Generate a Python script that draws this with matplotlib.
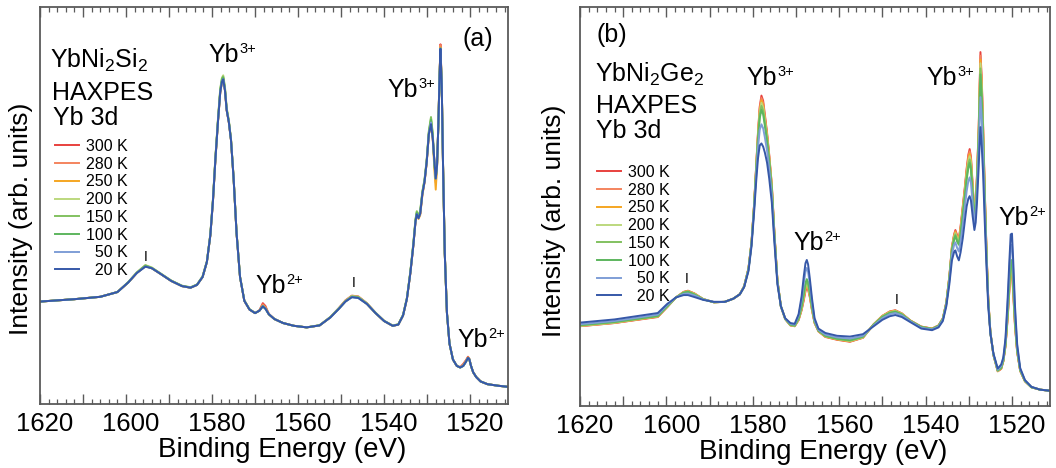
import matplotlib
matplotlib.use("Agg")
import matplotlib.pyplot as plt
from matplotlib.ticker import MultipleLocator, FuncFormatter
from matplotlib.transforms import ScaledTranslation

plt.rcParams['font.family'] = ['Liberation Sans', 'DejaVu Sans']
plt.rcParams['mathtext.fontset'] = 'custom'
plt.rcParams['mathtext.rm'] = 'Liberation Sans'
plt.rcParams['mathtext.it'] = 'Liberation Sans:italic'
plt.rcParams['mathtext.bf'] = 'Liberation Sans:bold'

# ---------------- data ----------------
temps = ["300 K", "280 K", "250 K", "200 K", "150 K", "100 K", "\u200750 K", "\u200720 K"]
colors = ["#e8413e", "#f4845e", "#f5a623", "#bcd87e", "#82c160", "#5db65e", "#7f9ed6", "#3658a8"]

# (a) YbNi2Si2 binding energies (eV)
energy_a = [1620, 1612, 1606, 1602, 1599.5, 1597.5, 1595.5, 1594, 1592, 1589.5,
            1587, 1585, 1583.5, 1582.2, 1581.2, 1580.4, 1579.8, 1579.2, 1578.6, 1578.1,
            1577.7, 1577.4, 1577.0, 1576.6, 1576.1, 1575.6, 1575.0, 1574.3, 1573.5, 1572.5,
            1571.3, 1570.0, 1569.0, 1568.2, 1567.6, 1566.8, 1565.5, 1563.5, 1561, 1558,
            1555, 1552.5, 1550.5, 1549, 1547.5, 1546, 1544, 1542, 1540, 1538,
            1536.7, 1535.6, 1534.7, 1533.9, 1533.2, 1532.7, 1532.4, 1532.0, 1531.6, 1531.1,
            1530.6, 1530.1, 1529.6, 1529.1, 1528.7, 1528.3, 1528.0, 1527.7, 1527.4, 1527.1,
            1526.9, 1526.6, 1526.3, 1525.9, 1525.4, 1524.8, 1524.0, 1523.1, 1522.3, 1521.6,
            1521.0, 1520.5, 1520.2, 1519.8, 1519.3, 1518.6, 1517.6, 1516, 1513.5, 1511]

si_300 = [25.8, 26.4, 27.0, 28.2, 30.6, 33.0, 34.9, 34.2, 32.8, 31.0,
          29.7, 29.3, 30.0, 32.0, 35.8, 42.5, 51.0, 62.0, 71.5, 78.5,
          81.2, 82.0, 79.0, 74.0, 71.0, 66.5, 57.0, 43.0, 32.0, 26.0,
          23.8, 22.9, 23.6, 25.4, 24.7, 22.7, 21.4, 20.4, 19.7, 19.3,
          19.8, 21.9, 24.2, 26.1, 27.3, 27.1, 25.4, 23.0, 20.9, 19.7,
          20.0, 22.3, 26.5, 33.0, 40.0, 46.0, 48.0, 46.8, 48.0, 53.0,
          56.0, 61.0, 68.0, 70.8, 67.0, 61.0, 56.8, 60.0, 70.0, 83.0,
          90.6, 80.0, 60.0, 38.0, 23.0, 15.2, 11.2, 9.6, 9.3, 10.1,
          11.0, 11.9, 11.4, 9.6, 8.0, 6.8, 5.7, 5.0, 4.6, 4.3]
si_280 = [25.8, 26.4, 27.0, 28.2, 30.6, 33.0, 34.8, 34.2, 32.8, 31.0,
          29.7, 29.3, 30.0, 32.0, 35.8, 42.5, 51.0, 62.0, 71.5, 78.5,
          81.2, 81.9, 79.0, 74.0, 71.0, 66.5, 57.0, 43.0, 32.0, 26.0,
          23.8, 22.9, 23.5, 25.1, 24.4, 22.6, 21.4, 20.4, 19.7, 19.3,
          19.8, 21.8, 24.1, 26.0, 27.2, 27.0, 25.3, 22.9, 20.9, 19.7,
          20.0, 22.3, 26.5, 33.0, 40.0, 46.0, 48.0, 46.8, 48.0, 53.0,
          56.0, 61.0, 68.0, 70.6, 67.0, 60.5, 55.8, 60.0, 70.0, 83.0,
          90.4, 80.0, 60.0, 38.0, 23.0, 15.2, 11.2, 9.6, 9.2, 9.9,
          10.9, 11.8, 11.3, 9.6, 8.0, 6.8, 5.7, 5.0, 4.6, 4.3]
si_250 = [25.8, 26.4, 27.0, 28.2, 30.6, 33.0, 34.7, 34.2, 32.8, 31.0,
          29.7, 29.3, 30.0, 32.0, 35.8, 42.5, 51.0, 62.0, 71.5, 78.5,
          81.2, 81.9, 79.0, 74.0, 71.0, 66.5, 57.0, 43.0, 32.0, 26.0,
          23.8, 22.9, 23.5, 24.8, 24.2, 22.6, 21.4, 20.4, 19.7, 19.3,
          19.8, 21.8, 24.1, 25.9, 27.1, 26.9, 25.2, 22.9, 20.9, 19.7,
          20.0, 22.3, 26.5, 33.0, 40.0, 46.0, 47.9, 46.6, 47.6, 52.6,
          55.8, 60.8, 67.8, 70.6, 66.8, 58.8, 54.0, 59.5, 70.0, 83.0,
          89.8, 80.0, 60.0, 38.0, 23.0, 15.2, 11.2, 9.6, 9.2, 9.7,
          10.7, 11.7, 11.3, 9.6, 8.0, 6.8, 5.7, 5.0, 4.6, 4.3]
si_200 = [25.8, 26.4, 27.0, 28.2, 30.7, 33.2, 35.0, 34.4, 32.9, 31.1,
          29.8, 29.4, 30.1, 32.2, 36.0, 42.8, 51.5, 62.6, 72.2, 79.4,
          82.2, 82.8, 79.8, 74.6, 71.5, 66.8, 57.2, 43.2, 32.1, 26.1,
          23.9, 22.9, 23.5, 24.7, 24.1, 22.6, 21.4, 20.4, 19.7, 19.3,
          19.9, 21.9, 24.2, 26.0, 27.2, 27.0, 25.4, 23.0, 21.0, 19.8,
          20.1, 22.5, 26.8, 33.4, 40.6, 46.6, 48.6, 47.3, 48.8, 53.6,
          56.6, 61.6, 68.5, 72.0, 68.0, 60.4, 56.9, 60.2, 70.0, 83.0,
          89.6, 80.0, 60.0, 38.0, 23.0, 15.2, 11.2, 9.6, 9.2, 9.6,
          10.6, 11.6, 11.3, 9.6, 8.0, 6.8, 5.7, 5.0, 4.6, 4.3]
si_150 = [25.8, 26.4, 27.0, 28.2, 30.7, 33.1, 34.9, 34.3, 32.9, 31.1,
          29.8, 29.4, 30.1, 32.1, 35.9, 42.7, 51.4, 62.4, 72.0, 79.2,
          82.0, 82.5, 79.6, 74.4, 71.3, 66.7, 57.1, 43.1, 32.1, 26.1,
          23.9, 22.9, 23.5, 24.7, 24.1, 22.6, 21.4, 20.4, 19.7, 19.3,
          19.8, 21.9, 24.1, 25.9, 27.1, 26.9, 25.3, 23.0, 20.9, 19.7,
          20.1, 22.4, 26.7, 33.3, 40.5, 46.5, 48.5, 47.2, 48.7, 53.5,
          56.5, 61.5, 68.8, 72.3, 68.2, 60.4, 56.9, 60.1, 70.0, 83.0,
          89.6, 80.0, 60.0, 38.0, 23.0, 15.2, 11.2, 9.6, 9.2, 9.6,
          10.6, 11.6, 11.3, 9.6, 8.0, 6.8, 5.7, 5.0, 4.6, 4.3]
si_100 = [25.8, 26.4, 27.0, 28.2, 30.6, 33.0, 34.8, 34.2, 32.8, 31.0,
          29.7, 29.3, 30.0, 32.0, 35.8, 42.6, 51.2, 62.2, 71.8, 78.9,
          81.7, 82.2, 79.3, 74.2, 71.1, 66.6, 57.0, 43.0, 32.0, 26.0,
          23.8, 22.9, 23.5, 24.6, 24.0, 22.6, 21.4, 20.4, 19.7, 19.3,
          19.8, 21.8, 24.0, 25.8, 27.0, 26.8, 25.2, 22.9, 20.9, 19.7,
          20.0, 22.3, 26.6, 33.2, 40.3, 46.3, 48.2, 47.0, 48.4, 53.3,
          56.3, 61.2, 68.4, 71.6, 67.6, 60.2, 56.8, 60.0, 70.0, 83.0,
          89.5, 80.0, 60.0, 38.0, 23.0, 15.2, 11.2, 9.6, 9.2, 9.6,
          10.6, 11.6, 11.3, 9.6, 8.0, 6.8, 5.7, 5.0, 4.6, 4.3]
si_50 = [25.8, 26.4, 27.0, 28.2, 30.6, 33.0, 34.6, 34.2, 32.8, 31.0,
         29.7, 29.3, 30.0, 32.0, 35.8, 42.5, 51.0, 62.0, 71.5, 78.5,
         81.2, 81.8, 79.0, 74.0, 71.0, 66.5, 57.0, 43.0, 32.0, 26.0,
         23.8, 22.9, 23.5, 24.6, 24.0, 22.6, 21.4, 20.4, 19.7, 19.3,
         19.8, 21.8, 24.0, 25.8, 26.9, 26.7, 25.2, 22.9, 20.9, 19.7,
         20.0, 22.3, 26.5, 33.0, 40.0, 46.0, 47.8, 46.8, 48.0, 53.0,
         56.0, 61.0, 68.0, 70.9, 67.0, 61.0, 56.8, 60.0, 70.0, 83.0,
         89.5, 80.0, 60.0, 38.0, 23.0, 15.2, 11.2, 9.6, 9.2, 9.6,
         10.6, 11.6, 11.3, 9.6, 8.0, 6.8, 5.7, 5.0, 4.6, 4.3]
si_20 = [25.8, 26.4, 27.0, 28.2, 30.6, 33.0, 34.6, 34.2, 32.8, 31.0,
         29.7, 29.3, 30.0, 32.0, 35.8, 42.5, 51.0, 62.0, 71.5, 78.5,
         81.2, 81.8, 79.0, 74.0, 71.0, 66.5, 57.0, 43.0, 32.0, 26.0,
         23.8, 22.9, 23.5, 24.6, 24.0, 22.6, 21.4, 20.4, 19.7, 19.3,
         19.8, 21.8, 24.0, 25.8, 26.9, 26.7, 25.2, 22.9, 20.9, 19.7,
         20.0, 22.3, 26.5, 33.0, 40.0, 46.0, 47.8, 46.8, 48.0, 53.0,
         56.0, 61.0, 68.0, 70.5, 67.0, 61.0, 56.8, 60.0, 70.0, 83.0,
         89.5, 80.0, 60.0, 38.0, 23.0, 15.2, 11.2, 9.6, 9.2, 9.6,
         10.6, 11.6, 11.3, 9.6, 8.0, 6.8, 5.7, 5.0, 4.6, 4.3]

# (b) YbNi2Ge2 binding energies (eV)
energy_b = [1620, 1612, 1602, 1599.8, 1597.8, 1596, 1595, 1593.5, 1591.5, 1589,
            1586.5, 1584.5, 1583, 1582, 1581, 1580.3, 1579.7, 1579.2, 1578.8, 1578.4,
            1578.0, 1577.6, 1577.2, 1576.7, 1576.2, 1575.6, 1575.0, 1574.3, 1573.5, 1572.5,
            1571.3, 1570.3, 1569.4, 1568.7, 1568.2, 1567.8, 1567.5, 1567.2, 1566.8, 1566.3,
            1565.7, 1564.8, 1563.2, 1560.5, 1557.5, 1554.5, 1552, 1550, 1548.3, 1547,
            1545.5, 1543.5, 1541, 1538.5, 1537, 1536, 1535.2, 1534.5, 1533.9, 1533.4,
            1533.1, 1532.7, 1532.3, 1531.9, 1531.4, 1530.9, 1530.5, 1530.1, 1529.8, 1529.5,
            1529.1, 1528.7, 1528.4, 1528.1, 1527.7, 1527.5, 1527.3, 1527.0, 1526.7, 1526.3,
            1525.9, 1525.5, 1525.0, 1524.3, 1523.3, 1522.5, 1522.0, 1521.5, 1521.0, 1520.6,
            1520.3, 1520.0, 1519.7, 1519.3, 1518.8, 1518.1, 1517.0, 1515.5, 1513.5, 1511]

ge_300 = [20.0, 20.8, 22.3, 24.8, 27.2, 28.6, 28.9, 28.2, 26.8, 26.0,
          26.1, 26.9, 28.0, 30.0, 34.5, 41.0, 50.5, 60.5, 68.5, 75.0,
          77.8, 76.5, 73.0, 68.5, 63.0, 55.5, 43.5, 31.5, 25.0, 21.8,
          20.2, 20.0, 21.5, 24.0, 26.5, 28.8, 29.8, 29.2, 27.3, 24.0,
          20.8, 18.7, 17.3, 16.6, 16.1, 17.1, 20.5, 22.6, 23.7, 24.0,
          23.2, 21.4, 19.9, 19.4, 20.2, 22.0, 26.0, 32.5, 40.0, 43.0,
          44.1, 42.8, 42.0, 45.0, 50.0, 55.0, 59.5, 63.0, 64.4, 62.5,
          55.5, 48.5, 51.0, 58.0, 70.0, 80.0, 88.7, 82.0, 71.0, 54.0,
          39.0, 27.0, 18.5, 12.8, 8.7, 9.3, 11.2, 15.0, 22.0, 29.0,
          33.5, 33.8, 28.0, 20.0, 13.5, 8.8, 6.2, 4.7, 4.1, 3.8]
ge_280 = [20.0, 20.8, 22.4, 24.8, 27.2, 28.6, 28.8, 28.2, 26.8, 26.0,
          26.1, 26.9, 28.0, 30.0, 34.5, 40.9, 50.4, 60.3, 68.2, 74.5,
          77.2, 75.9, 72.5, 68.1, 62.7, 55.3, 43.4, 31.5, 25.0, 21.8,
          20.2, 20.0, 21.6, 24.2, 26.8, 29.2, 30.1, 29.5, 27.5, 24.2,
          20.9, 18.7, 17.4, 16.7, 16.2, 17.1, 20.5, 22.6, 23.6, 23.9,
          23.2, 21.4, 19.9, 19.4, 20.2, 22.0, 25.9, 32.4, 39.8, 42.8,
          43.8, 42.5, 41.7, 44.7, 49.6, 54.6, 59.0, 62.5, 63.8, 61.9,
          55.1, 48.3, 50.8, 57.7, 69.5, 79.3, 87.8, 81.2, 70.4, 53.6,
          38.8, 26.9, 18.5, 12.8, 8.7, 9.4, 11.3, 15.1, 22.3, 29.4,
          34.0, 34.3, 28.4, 20.3, 13.6, 8.8, 6.2, 4.7, 4.1, 3.8]
ge_250 = [20.1, 20.9, 22.4, 24.9, 27.2, 28.5, 28.8, 28.1, 26.8, 26.0,
          26.1, 26.9, 28.0, 30.0, 34.4, 40.9, 50.3, 60.1, 67.9, 74.0,
          76.6, 75.4, 72.1, 67.8, 62.4, 55.1, 43.3, 31.4, 25.0, 21.8,
          20.3, 20.1, 21.7, 24.4, 27.1, 29.5, 30.5, 29.8, 27.8, 24.3,
          20.9, 18.8, 17.4, 16.7, 16.2, 17.2, 20.5, 22.5, 23.6, 23.9,
          23.1, 21.4, 19.8, 19.4, 20.1, 21.9, 25.9, 32.3, 39.6, 42.6,
          43.6, 42.3, 41.5, 44.4, 49.2, 54.2, 58.6, 61.9, 63.2, 61.4,
          54.7, 48.1, 50.5, 57.3, 69.0, 78.6, 86.8, 80.3, 69.8, 53.2,
          38.6, 26.8, 18.5, 12.8, 8.8, 9.4, 11.3, 15.2, 22.5, 29.8,
          34.5, 34.7, 28.8, 20.5, 13.7, 8.9, 6.2, 4.7, 4.1, 3.8]
ge_200 = [20.1, 20.9, 22.5, 24.9, 27.2, 28.5, 28.7, 28.1, 26.8, 26.0,
          26.1, 26.9, 28.0, 30.0, 34.4, 40.8, 50.2, 59.9, 67.5, 73.5,
          76.0, 74.8, 71.6, 67.4, 62.1, 54.8, 43.1, 31.4, 25.0, 21.8,
          20.3, 20.1, 21.7, 24.5, 27.4, 29.9, 30.8, 30.1, 28.0, 24.5,
          21.0, 18.8, 17.5, 16.8, 16.3, 17.2, 20.4, 22.5, 23.5, 23.8,
          23.1, 21.3, 19.8, 19.3, 20.1, 21.9, 25.8, 32.2, 39.5, 42.3,
          43.3, 42.0, 41.2, 44.0, 48.8, 53.7, 58.1, 61.4, 62.6, 60.9,
          54.3, 47.8, 50.3, 57.0, 68.5, 77.8, 85.9, 79.5, 69.1, 52.8,
          38.4, 26.7, 18.5, 12.9, 8.8, 9.5, 11.4, 15.3, 22.8, 30.1,
          34.9, 35.2, 29.2, 20.8, 13.8, 8.9, 6.2, 4.7, 4.1, 3.8]
ge_150 = [20.2, 21.0, 22.5, 25.0, 27.2, 28.4, 28.7, 28.0, 26.8, 26.0,
          26.1, 26.9, 28.0, 30.0, 34.3, 40.8, 50.1, 59.6, 67.1, 72.9,
          75.2, 74.0, 70.9, 66.9, 61.7, 54.5, 43.0, 31.3, 25.0, 21.8,
          20.3, 20.1, 21.8, 24.8, 27.8, 30.3, 31.3, 30.6, 28.3, 24.7,
          21.1, 18.9, 17.5, 16.8, 16.4, 17.3, 20.4, 22.4, 23.4, 23.7,
          23.0, 21.3, 19.8, 19.3, 20.1, 21.8, 25.8, 32.1, 39.2, 42.0,
          43.0, 41.6, 40.8, 43.6, 48.2, 53.1, 57.4, 60.6, 61.8, 60.1,
          53.7, 47.5, 49.9, 56.5, 67.8, 76.8, 84.6, 78.3, 68.3, 52.2,
          38.1, 26.6, 18.4, 12.9, 8.9, 9.5, 11.4, 15.4, 23.1, 30.7,
          35.6, 35.9, 29.8, 21.1, 13.9, 9.0, 6.3, 4.7, 4.1, 3.8]
ge_100 = [20.3, 21.1, 22.6, 25.0, 27.2, 28.4, 28.6, 27.9, 26.7, 26.0,
          26.1, 26.9, 28.0, 29.9, 34.3, 40.7, 49.9, 59.3, 66.5, 72.1,
          74.2, 73.1, 70.2, 66.3, 61.2, 54.2, 42.8, 31.2, 25.0, 21.9,
          20.4, 20.2, 22.0, 25.1, 28.3, 30.9, 31.8, 31.1, 28.7, 24.9,
          21.2, 18.9, 17.6, 16.9, 16.5, 17.4, 20.4, 22.3, 23.3, 23.6,
          22.9, 21.3, 19.8, 19.3, 20.1, 21.8, 25.7, 31.9, 39.0, 41.7,
          42.6, 41.2, 40.4, 43.1, 47.6, 52.5, 56.7, 59.7, 60.9, 59.2,
          53.1, 47.2, 49.5, 55.9, 67.0, 75.7, 83.1, 76.9, 67.3, 51.6,
          37.8, 26.4, 18.4, 12.9, 8.9, 9.6, 11.5, 15.6, 23.5, 31.3,
          36.4, 36.6, 30.4, 21.5, 14.1, 9.0, 6.3, 4.7, 4.1, 3.8]
ge_50 = [20.5, 21.3, 22.9, 25.3, 27.2, 28.1, 28.2, 27.7, 26.7, 26.1,
         26.1, 26.9, 28.0, 29.9, 34.1, 40.4, 49.3, 58.1, 64.6, 69.2,
         70.6, 69.6, 67.3, 64.0, 59.4, 52.8, 42.0, 30.9, 25.0, 21.9,
         20.6, 20.4, 22.6, 26.5, 30.7, 33.7, 34.6, 33.6, 30.6, 26.1,
         21.5, 19.1, 17.9, 17.2, 16.9, 17.6, 20.2, 22.0, 23.0, 23.3,
         22.7, 21.2, 19.6, 19.2, 19.9, 21.6, 25.4, 31.3, 37.9, 40.4,
         41.0, 39.6, 38.7, 41.1, 45.2, 49.9, 53.8, 56.4, 57.3, 55.9,
         50.7, 45.9, 48.0, 53.8, 64.0, 71.3, 77.4, 71.8, 63.5, 49.2,
         36.6, 25.8, 18.3, 13.0, 9.1, 10.0, 11.9, 16.4, 25.5, 34.3,
         40.2, 40.4, 33.6, 23.5, 14.9, 9.3, 6.4, 4.8, 4.1, 3.8]
ge_20 = [20.9, 21.7, 23.3, 25.6, 27.2, 27.8, 27.8, 27.3, 26.6, 26.1,
         26.1, 26.9, 28.0, 29.8, 33.8, 40.0, 48.5, 56.5, 62.0, 65.3,
         65.8, 65.0, 63.5, 61.0, 57.0, 51.0, 41.0, 30.5, 25.0, 22.0,
         20.8, 20.6, 23.0, 27.5, 32.5, 35.8, 36.6, 35.5, 32.0, 27.0,
         22.0, 19.4, 18.3, 17.6, 17.4, 18.0, 20.0, 21.6, 22.5, 22.8,
         22.3, 21.0, 19.4, 19.0, 19.7, 21.3, 25.0, 30.5, 36.5, 38.6,
         39.0, 37.5, 36.5, 38.5, 42.0, 46.5, 50.0, 52.0, 52.6, 51.5,
         47.5, 44.1, 46.0, 51.0, 60.0, 65.5, 69.9, 65.0, 58.5, 46.0,
         35.0, 25.0, 18.2, 13.2, 9.4, 10.4, 12.2, 17.0, 27.0, 36.5,
         43.0, 43.2, 36.0, 25.0, 15.5, 9.5, 6.5, 4.8, 4.1, 3.8]

spectra_a = [si_300, si_280, si_250, si_200, si_150, si_100, si_50, si_20]
spectra_b = [ge_300, ge_280, ge_250, ge_200, ge_150, ge_100, ge_50, ge_20]

# ---------------- figure ----------------
W, H = 1056, 468
fig = plt.figure(figsize=(W / 100, H / 100), dpi=100)


def fpos(x, y):
    return x / W, 1 - y / H


def axes_px(left, top, right, bottom):
    return fig.add_axes([left / W, 1 - bottom / H, (right - left) / W, (bottom - top) / H])


ax_a = axes_px(40, 7, 508, 404)
ax_b = axes_px(580, 7, 1050, 406)

spine_col = "#5a5a5a"
label_shift = ScaledTranslation(5 / 100, 0, fig.dpi_scale_trans)
for ax, energy, spectra in ((ax_a, energy_a, spectra_a), (ax_b, energy_b, spectra_b)):
    for vals, col, lab in zip(spectra, colors, temps):
        ax.plot(energy, vals, color=col, lw=1.4, label=lab, solid_joinstyle='round')
    ax.set_xlim(1620, 1511.2)
    ax.set_ylim(0, 100)
    ax.xaxis.set_major_locator(MultipleLocator(10))
    ax.xaxis.set_minor_locator(MultipleLocator(2))
    ax.xaxis.set_major_formatter(FuncFormatter(
        lambda v, p: "%d" % round(v) if round(v) % 20 == 0 else ""))
    ax.tick_params(axis='x', which='both', direction='in', top=True, bottom=True,
                   color=spine_col, labelsize=18.5, pad=6)
    ax.tick_params(axis='x', which='major', length=7, width=1.0)
    ax.tick_params(axis='x', which='minor', length=3.5, width=0.9)
    ax.set_yticks([])
    for s in ax.spines.values():
        s.set_color(spine_col)
        s.set_linewidth(1.3)
    ax.set_xlabel("Binding Energy (eV)", fontsize=20)
    ax.set_ylabel("Intensity (arb. units)", fontsize=19)
    for lbl in ax.get_xticklabels():
        lbl.set_transform(lbl.get_transform() + label_shift)

ax_a.yaxis.set_label_coords(-0.015, 0.466)
ax_b.yaxis.set_label_coords(-0.030, 0.464)
ax_a.xaxis.set_label_coords(0.517, -0.082)
ax_b.xaxis.set_label_coords(0.517, -0.082)

leg_kw = dict(frameon=False, fontsize=11.5, handlelength=1.5, handletextpad=0.42,
              labelspacing=0.17, borderpad=0, borderaxespad=0, loc='upper left')
ax_a.legend(bbox_to_anchor=((55 - 40) / 468, 1 - (139 - 7) / 397), **leg_kw)
ax_b.legend(bbox_to_anchor=((597 - 580) / 470, 1 - (165 - 7) / 399), **leg_kw)

big = 18
labels = [
    ("YbNi$_2$Si$_2$", 50, 68), ("HAXPES", 52, 100), ("Yb 3d", 53, 125),
    ("(a)", 462, 46),
    ("YbNi$_2$Ge$_2$", 595, 82), ("HAXPES", 596, 113), ("Yb 3d", 596, 138),
    ("(b)", 596, 42),
]
for txt, x, y in labels:
    fig.text(*fpos(x, y), txt, fontsize=big, ha='left', va='baseline')

# valence labels: "Yb" with a small raised charge
ions = [("3+", 208, 62), ("3+", 387, 97), ("2+", 255, 293), ("2+", 457, 347),
        ("3+", 746, 85), ("3+", 926, 85), ("2+", 793, 250), ("2+", 998, 225)]
renderer = fig.canvas.get_renderer()
for charge, x, y in ions:
    t = fig.text(*fpos(x, y), "Yb", fontsize=big, ha='left', va='baseline')
    bb = t.get_window_extent(renderer)
    fig.text(*fpos(bb.x1 / fig.dpi * 100 + 1, y - 9), charge, fontsize=10.5,
             ha='left', va='baseline')

# satellite markers
for x, y in ((146, 257), (354, 283), (687, 279), (897, 300)):
    fig.text(*fpos(x, y), "I", fontsize=10, ha='center', va='center')

fig.savefig("out.png", dpi=100)
